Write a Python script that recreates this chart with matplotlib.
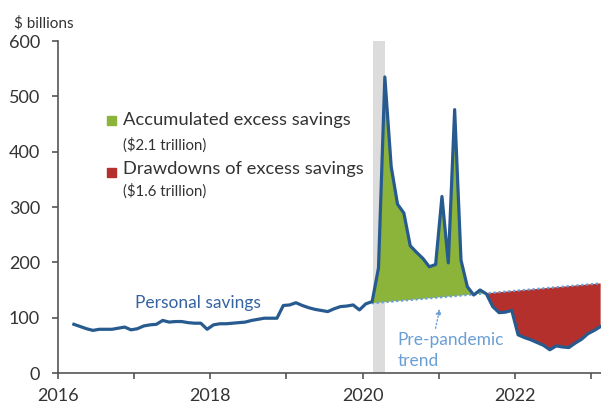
import numpy as np
import matplotlib
matplotlib.use("Agg")
import matplotlib.pyplot as plt
from matplotlib.patches import Rectangle

plt.rcParams['font.family'] = ['Lato', 'DejaVu Sans']

# monthly personal savings, $ billions, Mar 2016 - Feb 2023
start_year = 2016
start_month = 3
savings = [
    88, 84, 80, 77, 79, 79, 79, 81, 83, 78,                      # 2016
    80, 85, 87, 88, 95, 92, 93, 93, 91, 90, 90, 79,              # 2017
    87, 89, 89, 90, 91, 92, 95, 97, 99, 99, 99, 122,             # 2018
    123, 127, 122, 118, 115, 113, 111, 116, 120, 121, 123, 114,  # 2019
    125, 129, 190, 535, 373, 305, 289, 230, 218, 207, 192, 196,  # 2020
    319, 199, 476, 204, 156, 141, 150, 143, 120, 109, 110, 113,  # 2021
    69, 64, 60, 55, 50, 42, 49, 47, 46, 54, 61, 71,              # 2022
    77, 84,                                                      # 2023
]
# pre-pandemic trend (straight line)
trend_x = [2020.12, 2023.125]
trend_y = [126, 162]
# recession shading
recession = (2020.135, 2020.29)

year_ticks = [2016, 2017, 2018, 2019, 2020, 2021, 2022, 2023]
year_labels = ['2016', '', '2018', '', '2020', '', '2022', '']
y_ticks = [0, 100, 200, 300, 400, 500, 600]

line_col = '#275b90'
green = '#8cb43a'
red = '#b3302c'
trend_col = '#6a9fd6'
axis_col = '#555555'
text_col = '#333333'

savings = np.array(savings, dtype=float)
x = start_year + (start_month - 0.5) / 12 + np.arange(len(savings)) / 12

W, H = 601, 405
fig = plt.figure(figsize=(W / 100, H / 100), dpi=100)
ax = fig.add_axes([58 / W, 1 - 373 / H, 1 - 58 / W, (373 - 41) / H])

ax.axvspan(recession[0], recession[1], color='#dcdcdc', lw=0, zorder=0)

# fills against trend
mask = x >= trend_x[0]
xt = x[mask]
st = savings[mask]
tt = np.interp(xt, trend_x, trend_y)
ax.fill_between(xt, st, tt, where=st >= tt, interpolate=True, color=green, lw=0, zorder=1)
ax.fill_between(xt, st, tt, where=st <= tt, interpolate=True, color=red, lw=0, zorder=1)

ax.plot(trend_x, trend_y, color=trend_col, lw=1.6, ls=(0, (1, 1.2)), zorder=2)
ax.plot(x, savings, color=line_col, lw=2.3, solid_joinstyle='round', zorder=3)

ax.set_xlim(2016, 2023.13)
ax.set_ylim(0, 600)
ax.set_xticks(year_ticks)
ax.set_xticklabels(year_labels)
ax.set_yticks(y_ticks)
ax.tick_params(axis='both', colors=axis_col, labelcolor=text_col, labelsize=13,
               length=4, width=1.2, direction='out')
ax.tick_params(axis='x', pad=7)
ax.tick_params(axis='y', pad=9)
for s in ['top', 'right']:
    ax.spines[s].set_visible(False)
for s in ['left', 'bottom']:
    ax.spines[s].set_color(axis_col)
    ax.spines[s].set_linewidth(1.2)

fig.text(14 / W, 1 - 23 / H, '$ billions', fontsize=11, color=text_col, va='center', ha='left')

# legend
def fx(px):
    return px / W

def fy(py):
    return 1 - py / H

fig.add_artist(Rectangle((fx(107), fy(125)), 9 / W, 9 / H, color=green, transform=fig.transFigure))
fig.add_artist(Rectangle((fx(107), fy(177)), 9 / W, 9 / H, color=red, transform=fig.transFigure))
fig.text(fx(123), fy(120), 'Accumulated excess savings', fontsize=13.2, color=text_col, va='center')
fig.text(fx(123), fy(145), '($2.1 trillion)', fontsize=10.8, color=text_col, va='center')
fig.text(fx(123), fy(169), 'Drawdowns of excess savings', fontsize=13.2, color=text_col, va='center')
fig.text(fx(123), fy(191), '($1.6 trillion)', fontsize=10.8, color=text_col, va='center')

ax.text(2017.01, 127, 'Personal savings', fontsize=12.5, color='#3563a0', va='center', ha='left')
ax.text(2020.46, 60, 'Pre-pandemic', fontsize=12.5, color=trend_col, va='center', ha='left')
ax.text(2020.46, 22, 'trend', fontsize=12.5, color=trend_col, va='center', ha='left')
ax.annotate('', xy=(2021.02, 121), xytext=(2020.95, 76),
            arrowprops=dict(arrowstyle='-|>', color=trend_col, lw=1.0, ls=':',
                            mutation_scale=8))

fig.savefig('out.png', dpi=100)
